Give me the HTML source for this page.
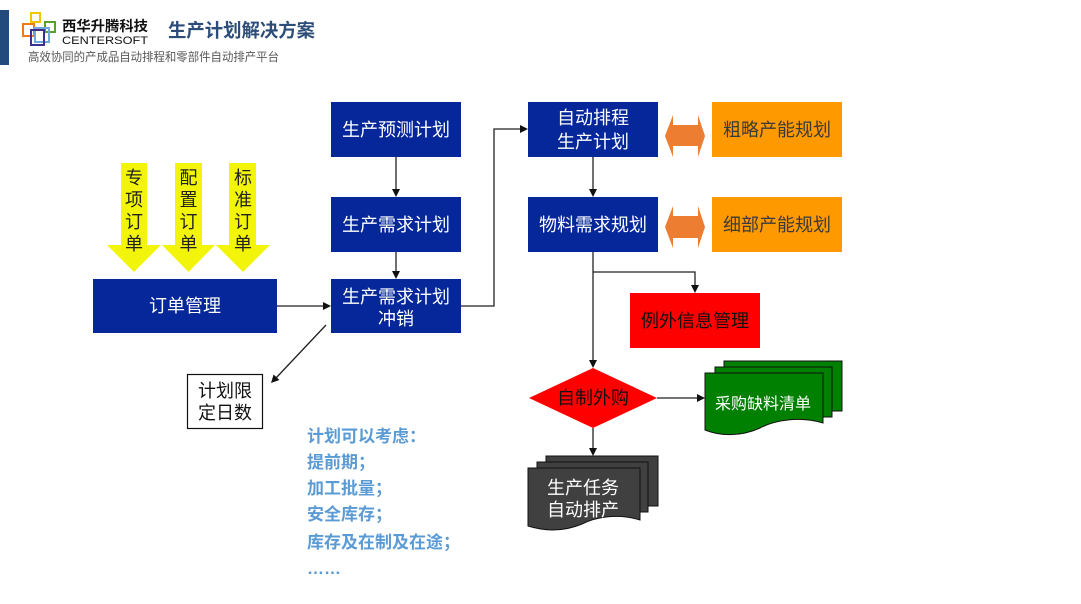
<!DOCTYPE html>
<html><head><meta charset="utf-8"><style>
html,body{margin:0;padding:0;background:#fff;}
svg{display:block;}
text{font-family:"Liberation Sans","Noto Sans CJK SC",sans-serif;}
</style></head><body>
<svg width="1081" height="604" viewBox="0 0 1081 604" xmlns="http://www.w3.org/2000/svg">
<rect x="0" y="0" width="1081" height="604" fill="#fff"/>
<!-- header -->
<rect x="0" y="10" width="9" height="55" fill="#234a7d"/>
<g fill="none" stroke-width="2">
<rect x="31" y="13" width="9" height="9" stroke="#f2c500"/>
<rect x="23" y="24" width="11" height="12" stroke="#ef7a1a"/>
<rect x="45" y="22" width="10" height="10" stroke="#5aa02c"/>
<rect x="35" y="28" width="14" height="14" stroke="#6fa8dc"/>
<rect x="31" y="30" width="13" height="15" stroke="#3b2f8f"/>
</g>
<text x="62" y="31" font-size="14" font-weight="bold" fill="#111" textLength="86" lengthAdjust="spacingAndGlyphs">西华升腾科技</text>
<text x="62" y="44" font-size="11" fill="#111" textLength="86" lengthAdjust="spacingAndGlyphs">CENTERSOFT</text>
<text x="168" y="37" font-size="18.5" font-weight="bold" fill="#2d4d78" textLength="147" lengthAdjust="spacingAndGlyphs">生产计划解决方案</text>
<text x="28" y="61" font-size="12" fill="#595959" textLength="251" lengthAdjust="spacingAndGlyphs">高效协同的产成品自动排程和零部件自动排产平台</text>

<!-- yellow arrows -->
<g fill="#f2f50a">
<polygon points="121,163 147,163 147,245 161,245 134,272 107,245 121,245"/>
<polygon points="175,163 202,163 202,245 215,245 188.5,272 162,245 175,245"/>
<polygon points="229,163 256,163 256,245 270,245 243,272 216,245 229,245"/>
</g>
<g font-size="18" fill="#222" text-anchor="middle">
<text x="134" y="184">专</text><text x="134" y="206">项</text><text x="134" y="228">订</text><text x="134" y="250">单</text>
<text x="188.5" y="184">配</text><text x="188.5" y="206">置</text><text x="188.5" y="228">订</text><text x="188.5" y="250">单</text>
<text x="243" y="184">标</text><text x="243" y="206">准</text><text x="243" y="228">订</text><text x="243" y="250">单</text>
</g>

<!-- blue boxes -->
<g fill="#052799">
<rect x="93" y="279" width="184" height="54"/>
<rect x="331" y="102" width="130" height="55"/>
<rect x="331" y="197" width="130" height="55"/>
<rect x="331" y="279" width="130" height="54"/>
<rect x="528" y="102" width="130" height="55"/>
<rect x="528" y="197" width="130" height="55"/>
</g>
<g font-size="18" fill="#fff" text-anchor="middle">
<text x="185" y="312">订单管理</text>
<text x="396" y="136">生产预测计划</text>
<text x="396" y="231">生产需求计划</text>
<text x="396" y="303">生产需求计划</text>
<text x="396" y="325">冲销</text>
<text x="593" y="124">自动排程</text>
<text x="593" y="148">生产计划</text>
<text x="593" y="231">物料需求规划</text>
</g>

<!-- orange boxes -->
<rect x="712" y="102" width="130" height="55" fill="#ff9900"/>
<rect x="712" y="197" width="130" height="55" fill="#ff9900"/>
<g font-size="18" fill="#3a3a3a" text-anchor="middle">
<text x="777" y="136">粗略产能规划</text>
<text x="777" y="231">细部产能规划</text>
</g>
<g fill="#ed7d31">
<polygon points="665,136 673,115 673,125 698,125 698,115 705,136 698,157 698,146 673,146 673,157"/>
<polygon points="665,227 673,206 673,216 698,216 698,206 705,227 698,248 698,238 673,238 673,248"/>
</g>

<!-- red box -->
<rect x="630" y="293" width="130" height="55" fill="#ff0000"/>
<text x="695" y="327" font-size="18" fill="#111" text-anchor="middle">例外信息管理</text>

<!-- diamond -->
<polygon points="593,368 657,398 593,428 529,398" fill="#ff0000"/>
<text x="593" y="404" font-size="18" fill="#111" text-anchor="middle">自制外购</text>

<!-- green docs -->
<g stroke="#111" stroke-width="1">
<rect x="724" y="361" width="118" height="50" fill="#008000"/>
<rect x="715" y="367" width="117" height="50" fill="#008000"/>
<path d="M705,373 H823 V423 C800,416 775,420 760,428 C740,437 720,436 705,430 Z" fill="#008000"/>
<rect x="546" y="456" width="112" height="50" fill="#404040"/>
<rect x="537" y="462" width="111" height="50" fill="#404040"/>
<path d="M528,468 H640 V520 C618,513 596,517 582,524 C563,532 544,531 528,526 Z" fill="#404040"/>
</g>
<text x="763" y="409" font-size="16" fill="#fff" text-anchor="middle">采购缺料清单</text>
<text x="583" y="494" font-size="18" fill="#fff" text-anchor="middle">生产任务</text>
<text x="583" y="516" font-size="18" fill="#fff" text-anchor="middle">自动排产</text>

<!-- limit box -->
<rect x="187.5" y="374.5" width="75" height="54" fill="#fff" stroke="#111" stroke-width="1.2"/>
<text x="225" y="397" font-size="18" fill="#111" text-anchor="middle">计划限</text>
<text x="225" y="419" font-size="18" fill="#111" text-anchor="middle">定日数</text>

<!-- connectors -->
<g stroke="#222" stroke-width="1.3" fill="none">
<line x1="396" y1="157" x2="396" y2="189"/>
<line x1="396" y1="252" x2="396" y2="271"/>
<line x1="277" y1="306" x2="323" y2="306"/>
<polyline points="461,306 494,306 494,129 520,129"/>
<line x1="593" y1="157" x2="593" y2="189"/>
<line x1="593" y1="252" x2="593" y2="360"/>
<polyline points="593,272 695,272 695,285"/>
<line x1="657" y1="398" x2="697" y2="398"/>
<line x1="593" y1="428" x2="593" y2="448"/>
<line x1="326" y1="325" x2="276" y2="378"/>
</g>
<g fill="#111">
<polygon points="392,189 400,189 396,197"/>
<polygon points="392,271 400,271 396,279"/>
<polygon points="323,302 323,310 331,306"/>
<polygon points="520,125 520,133 528,129"/>
<polygon points="589,189 597,189 593,197"/>
<polygon points="589,360 597,360 593,368"/>
<polygon points="691,285 699,285 695,293"/>
<polygon points="697,394 697,402 705,398"/>
<polygon points="589,448 597,448 593,456"/>
<polygon points="279.4,380 273.6,374.5 271,383"/>
</g>

<!-- notes -->
<g font-size="17" font-weight="bold" fill="#5b9bd5">
<text x="307" y="442">计划可以考虑：</text>
<text x="307" y="468">提前期；</text>
<text x="307" y="494">加工批量；</text>
<text x="307" y="520">安全库存；</text>
<text x="307" y="548">库存及在制及在途；</text>
<text x="307" y="574">……</text>
</g>
</svg>
</body></html>
